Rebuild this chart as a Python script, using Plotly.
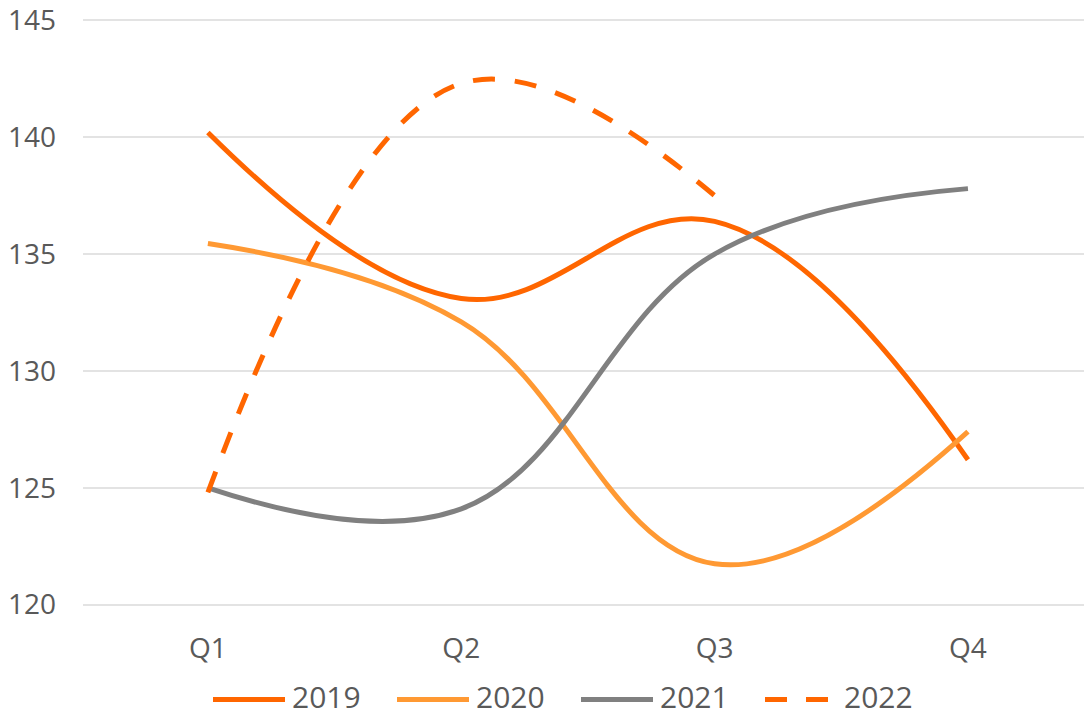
import plotly.graph_objects as go

quarters = ["Q1", "Q2", "Q3", "Q4"]
s2019 = [140.2, 133.1, 136.4, 126.2]
s2020 = [135.45, 132.1, 121.75, 127.4]
s2021 = [125.0, 124.1, 135.0, 137.8]
s2022 = [124.8, 142.3, 137.5]

y_ticks = [120, 125, 130, 135, 140, 145]

FONT = "Open Sans"
TEXT = "#595959"
W, H = 1084, 717
ML, MR, MT, MB = 83, 0, 17.66, 109.66

series = [
    ("2019", s2019, "#FF6600", "solid"),
    ("2020", s2020, "#FF9933", "solid"),
    ("2021", s2021, "#808080", "solid"),
    ("2022", s2022, "#FF6600", "22px,20px"),
]

fig = go.Figure()
for name, vals, color, dash in series:
    fig.add_trace(go.Scatter(
        x=quarters[:len(vals)], y=vals, name=name, mode="lines",
        line=dict(color=color, width=5, shape="spline", smoothing=1.15, dash=dash),
        showlegend=False,
    ))

# Legend row below the axis: a long line key followed by the series name
plot_w = W - ML - MR
plot_h = H - MT - MB


def px_to_paper_x(px):
    return (px - ML) / plot_w


def px_to_paper_y(py):
    return (H - MB - py) / plot_h


key_y = px_to_paper_y(700)
text_y = px_to_paper_y(697)
for i, (name, _, color, dash) in enumerate(series):
    x0 = 213 + i * 184
    key_len = 72 if dash == "solid" else 65
    key_dash = "solid" if dash == "solid" else "22px,19px"
    fig.add_shape(
        type="line", xref="paper", yref="paper",
        x0=px_to_paper_x(x0), x1=px_to_paper_x(x0 + key_len), y0=key_y, y1=key_y,
        line=dict(color=color, width=5, dash=key_dash),
    )
    fig.add_annotation(
        xref="paper", yref="paper",
        x=px_to_paper_x(x0 + key_len + 6 + (0 if dash == "solid" else 7)),
        y=text_y, xanchor="left", yanchor="middle", text=name, showarrow=False,
        font=dict(family=FONT, size=30, color=TEXT), borderpad=0,
    )

fig.update_layout(
    width=W, height=H,
    margin=dict(l=ML, r=MR, t=MT, b=MB, autoexpand=False),
    paper_bgcolor="white", plot_bgcolor="white",
    font=dict(family=FONT, color=TEXT, size=28),
    showlegend=False,
)
fig.update_xaxes(
    type="category", range=[-0.493, 3.458], showgrid=False, zeroline=False,
    showline=False, ticks="", ticklabelstandoff=22,
    tickfont=dict(size=28, color=TEXT),
)
fig.update_yaxes(
    range=[119.9, 145.1], tickvals=y_ticks, showgrid=True, gridcolor="#E3E3E3",
    gridwidth=1.5, zeroline=False, showline=False, ticks="", ticklabelstandoff=26,
    tickfont=dict(size=28, color=TEXT),
)

fig.write_html("out.html")
